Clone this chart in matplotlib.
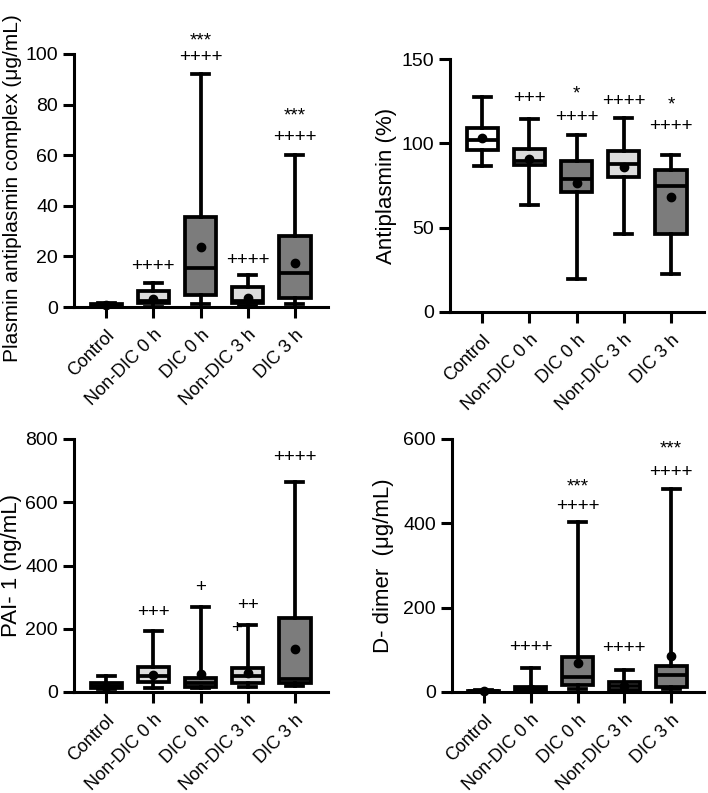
import matplotlib.pyplot as plt
import numpy as np

plt.rcParams['font.family'] = ['Liberation Sans', 'DejaVu Sans']

groups = ['Control', 'Non-DIC 0 h', 'DIC 0 h', 'Non-DIC 3 h', 'DIC 3 h']
fills = ['white', '#dcdcdc', '#7c7c7c', '#dcdcdc', '#7c7c7c']

# Plasmin antiplasmin complex (ug/mL)
pac_whislo = [0, 0, 1.2, 0.5, 1.2]
pac_q1 = [0.2, 1.6, 4.7, 1.6, 3.5]
pac_med = [0.6, 2.2, 15.5, 2.5, 13.5]
pac_q3 = [1.2, 6.4, 35.5, 8.0, 28.0]
pac_whishi = [1.5, 9.5, 92, 12.6, 60]
pac_mean = [0.6, 3.1, 23.8, 3.5, 17.5]
pac_marks = [(1, 16.2, '++++'), (2, 98.8, '++++'), (2, 105.0, '***'),
             (3, 18.2, '++++'), (4, 66.8, '++++'), (4, 75.5, '***')]

# Antiplasmin (%)
anti_whislo = [86.6, 63.4, 19.6, 46.2, 22.3]
anti_q1 = [96.2, 87.2, 71.0, 79.8, 46.0]
anti_med = [102, 89.3, 78.7, 87.9, 74.5]
anti_q3 = [109, 96.8, 89.7, 95.7, 84.4]
anti_whishi = [127.3, 114.6, 105, 115.2, 93.3]
anti_mean = [103, 91, 76.5, 86, 68.2]
anti_marks = [(1, 126.3, '+++'), (2, 115.6, '++++'), (2, 129.4, '*'),
              (3, 125.0, '++++'), (4, 109.7, '++++'), (4, 123.0, '*')]

# PAI-1 (ng/mL)
pai_whislo = [9, 13, 13, 16, 18]
pai_q1 = [14, 32, 16, 28, 30]
pai_med = [20, 50, 30, 50, 42]
pai_q3 = [28, 78, 44, 75, 234]
pai_whishi = [50, 193, 268, 211, 665]
pai_mean = [15, 55, 58, 60, 137]
pai_marks = [(1, 252, '+++'), (2, 330, '+'), (3, 274, '++'),
             (2.77, 202, '+'), (4, 742, '++++')]

# D-dimer (ug/mL)
dd_whislo = [0, 0, 8, 2, 8]
dd_q1 = [0.5, 3, 17, 5, 13]
dd_med = [1.5, 6, 36, 14, 40]
dd_q3 = [3, 12, 84, 24, 61]
dd_whishi = [5, 57, 403, 51, 481]
dd_mean = [2, 8, 69, 15, 85]
dd_marks = [(1, 106.6, '++++'), (2, 439.7, '++++'), (2, 487.0, '***'),
            (3, 104.0, '++++'), (4, 520.0, '++++'), (4, 576.0, '***')]

panels = [
    ('Plasmin antiplasmin complex (μg/mL)', pac_whislo, pac_q1, pac_med, pac_q3, pac_whishi, pac_mean,
     pac_marks, 100, 20, [74, 307, 254], -0.205, 0.47, 15),
    ('Antiplasmin (%)', anti_whislo, anti_q1, anti_med, anti_q3, anti_whishi, anti_mean,
     anti_marks, 150, 50, [450, 312, 254], -0.209, 0.5, 16),
    ('PAI- 1 (ng/mL)', pai_whislo, pai_q1, pai_med, pai_q3, pai_whishi, pai_mean,
     pai_marks, 800, 200, [74, 692, 254], -0.205, 0.5, 16),
    ('D- dimer  (μg/mL)', dd_whislo, dd_q1, dd_med, dd_q3, dd_whishi, dd_mean,
     dd_marks, 600, 200, [452, 692, 252], -0.23, 0.5, 16),
]

W, H = 708, 793
fig = plt.figure(figsize=(W / 100, H / 100), dpi=100)
lw = 2.7

for (ylabel, wlo, q1, med, q3, whi, mean, marks, ymax, ystep, (px, py, pw), labx, laby, labfs) in panels:
    ax = fig.add_axes([px / W, (H - py) / H, pw / W, 253 / H])
    stats = []
    for i in range(len(groups)):
        stats.append(dict(whislo=wlo[i], q1=q1[i], med=med[i], q3=q3[i],
                          whishi=whi[i], mean=mean[i], fliers=[], label=groups[i]))
    pos = np.arange(len(groups))
    bp = ax.bxp(stats, positions=pos, widths=0.66, patch_artist=True, showmeans=True,
                showfliers=False,
                boxprops=dict(linewidth=lw, edgecolor='black'),
                medianprops=dict(color='black', linewidth=lw),
                whiskerprops=dict(color='black', linewidth=lw),
                capprops=dict(color='black', linewidth=lw),
                meanprops=dict(marker='o', markerfacecolor='black', markeredgecolor='black',
                               markersize=6),
                capwidths=0.36)
    for patch, c in zip(bp['boxes'], fills):
        patch.set_facecolor(c)
    for key in ['boxes', 'medians', 'whiskers', 'caps', 'means']:
        for art in bp[key]:
            art.set_clip_on(False)

    for (xi, yv, txt) in marks:
        ax.text(xi, yv, txt, ha='center', va='center', fontsize=13.5, clip_on=False)

    ax.set_xlim(-0.68, 4.7)
    ax.set_ylim(0, ymax)
    ax.set_yticks(np.arange(0, ymax + 1, ystep))
    ax.set_xticks(pos)
    ax.set_xticklabels(groups, rotation=45, ha='right', rotation_mode='anchor')
    ax.tick_params(axis='both', width=2.2, length=8, color='black')
    ax.tick_params(axis='y', labelsize=14)
    ax.tick_params(axis='x', labelsize=13, pad=6)
    for s in ['top', 'right']:
        ax.spines[s].set_visible(False)
    for s in ['left', 'bottom']:
        ax.spines[s].set_linewidth(2.2)
    ax.set_ylabel(ylabel, fontsize=labfs)
    ax.yaxis.set_label_coords(labx, laby)

plt.savefig('out.png', dpi=100)
